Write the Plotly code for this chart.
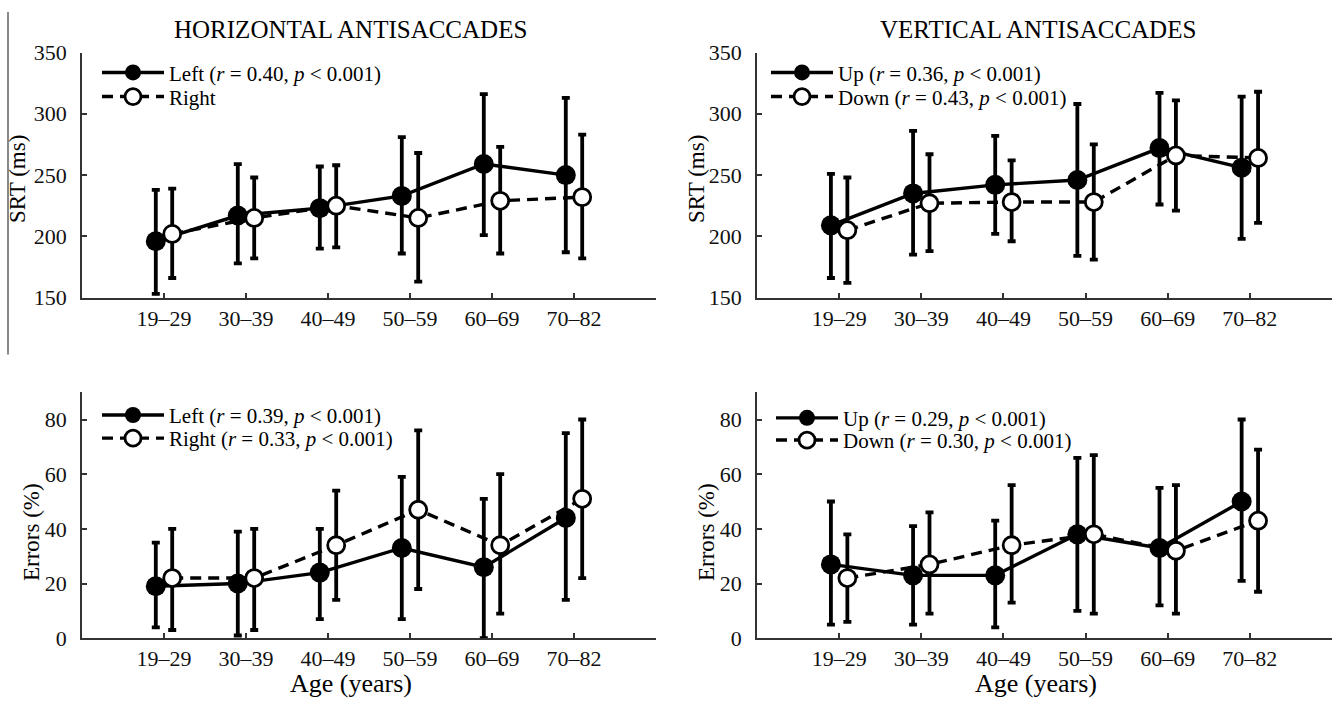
import numpy as np
import plotly.graph_objects as go

W, H = 1336, 712

age_groups = ["19–29", "30–39", "40–49", "50–59", "60–69", "70–82"]

# Horizontal antisaccades, SRT (ms)
h_srt_left = [196, 217, 223, 233, 259, 250]
h_srt_left_hi = [238, 259, 257, 281, 316, 313]
h_srt_left_lo = [153, 178, 190, 186, 201, 187]
h_srt_right = [202, 215, 225, 215, 229, 232]
h_srt_right_hi = [239, 248, 258, 268, 273, 283]
h_srt_right_lo = [166, 182, 191, 163, 186, 182]

# Vertical antisaccades, SRT (ms)
v_srt_up = [209, 235, 242, 246, 272, 256]
v_srt_up_hi = [251, 286, 282, 308, 317, 314]
v_srt_up_lo = [166, 185, 202, 184, 226, 198]
v_srt_down = [205, 227, 228, 228, 266, 264]
v_srt_down_hi = [248, 267, 262, 275, 311, 318]
v_srt_down_lo = [162, 188, 196, 181, 221, 211]

# Horizontal antisaccades, errors (%)
h_err_left = [19, 20, 24, 33, 26, 44]
h_err_left_hi = [35, 39, 40, 59, 51, 75]
h_err_left_lo = [4, 1, 7, 7, 0, 14]
h_err_right = [22, 22, 34, 47, 34, 51]
h_err_right_hi = [40, 40, 54, 76, 60, 80]
h_err_right_lo = [3, 3, 14, 18, 9, 22]

# Vertical antisaccades, errors (%)
v_err_up = [27, 23, 23, 38, 33, 50]
v_err_up_hi = [50, 41, 43, 66, 55, 80]
v_err_up_lo = [5, 5, 4, 10, 12, 21]
v_err_down = [22, 27, 34, 38, 32, 43]
v_err_down_hi = [38, 46, 56, 67, 56, 69]
v_err_down_lo = [6, 9, 13, 9, 9, 17]

legend_names = [
    ["Left (<i>r</i> = 0.40, <i>p</i> &lt; 0.001)", "Right"],
    ["Up (<i>r</i> = 0.36, <i>p</i> &lt; 0.001)", "Down (<i>r</i> = 0.43, <i>p</i> &lt; 0.001)"],
    ["Left (<i>r</i> = 0.39, <i>p</i> &lt; 0.001)", "Right (<i>r</i> = 0.33, <i>p</i> &lt; 0.001)"],
    ["Up (<i>r</i> = 0.29, <i>p</i> &lt; 0.001)", "Down (<i>r</i> = 0.30, <i>p</i> &lt; 0.001)"],
]

pos = np.arange(1, len(age_groups) + 1)
OFF = 0.1

fig = go.Figure()


def add_series(xa, ya, leg, name, mean, hi, lo, filled):
    mean = np.array(mean, float)
    hi = np.array(hi, float)
    lo = np.array(lo, float)
    x = pos - OFF if filled else pos + OFF
    fig.add_trace(go.Scatter(
        x=x, y=mean, xaxis=xa, yaxis=ya, legend=leg, name=name,
        mode="lines+markers",
        line=dict(color="black", width=3.4, dash="solid" if filled else "11px,7px"),
        marker=dict(
            symbol="circle",
            size=20 if filled else 17,
            color="black" if filled else "white",
            line=dict(color="black", width=0 if filled else 2.8),
        ),
        error_y=dict(type="data", symmetric=False, array=hi - mean,
                     arrayminus=mean - lo, color="black", thickness=3.8, width=4),
        hoverinfo="skip",
    ))


panels = [
    (h_srt_left, h_srt_left_hi, h_srt_left_lo, h_srt_right, h_srt_right_hi, h_srt_right_lo),
    (v_srt_up, v_srt_up_hi, v_srt_up_lo, v_srt_down, v_srt_down_hi, v_srt_down_lo),
    (h_err_left, h_err_left_hi, h_err_left_lo, h_err_right, h_err_right_hi, h_err_right_lo),
    (v_err_up, v_err_up_hi, v_err_up_lo, v_err_down, v_err_down_hi, v_err_down_lo),
]
for i, (m1, h1, l1, m2, h2, l2) in enumerate(panels):
    s = "" if i == 0 else str(i + 1)
    n1, n2 = legend_names[i]
    leg_a = "legend" if i == 0 else "legend" + str(2 * i + 1)
    leg_b = "legend" + str(2 * i + 2)
    add_series("x" + s, "y" + s, leg_a, n1, m1, h1, l1, True)
    add_series("x" + s, "y" + s, leg_b, n2, m2, h2, l2, False)


def px(v):
    return v / W


def py(v):
    return 1 - v / H


tick_font = dict(family="Liberation Serif", size=22, color="#111")
axis_common = dict(showline=True, linecolor="#333", linewidth=1.5, ticks="inside",
                   ticklen=5, tickwidth=1.5, tickcolor="#333", showgrid=False,
                   zeroline=False, tickfont=tick_font, fixedrange=True)

xtickvals = list(pos) + [len(age_groups) + 1]
xticktext = age_groups + [""]

left_dom = [px(82), px(656)]
right_dom = [px(757), px(1332)]
top_dom = [py(296), py(42)]
bot_dom = [py(649), py(394)]

layout = dict(
    width=W, height=H, margin=dict(l=0, r=0, t=0, b=0),
    paper_bgcolor="white", plot_bgcolor="white",
    showlegend=True,
)
for i, (xd, yd, yr, ytv) in enumerate([
    (left_dom, top_dom, [150, 350], [150, 200, 250, 300, 350]),
    (right_dom, top_dom, [150, 350], [150, 200, 250, 300, 350]),
    (left_dom, bot_dom, [0, 90], [0, 20, 40, 60, 80]),
    (right_dom, bot_dom, [0, 90], [0, 20, 40, 60, 80]),
]):
    s = "" if i == 0 else str(i + 1)
    layout["xaxis" + s] = dict(axis_common, domain=xd, range=[0, 7], anchor="y" + s,
                               tickvals=xtickvals, ticktext=xticktext)
    layout["yaxis" + s] = dict(axis_common, domain=yd, range=yr, anchor="x" + s,
                               tickvals=ytv, ticklabelstandoff=9)

legend_common = dict(font=dict(family="Liberation Serif", size=21, color="black"),
                     bgcolor="rgba(0,0,0,0)", borderwidth=0, itemwidth=62,
                     xanchor="left", yanchor="middle", tracegroupgap=0,
                     itemclick=False, itemdoubleclick=False)
# (left x of legend, row-centre y) for each legend row, in pixels
legend_rows = [(97, 63), (97, 88), (766, 63), (766, 88),
               (97, 418), (97, 442), (771, 421), (771, 444)]
for k, (lx, ly) in enumerate(legend_rows):
    key = "legend" if k == 0 else "legend" + str(k + 1)
    layout[key] = dict(legend_common, x=px(lx), y=py(ly))

text_font = dict(family="Liberation Serif", color="black")
annotations = [
    dict(text="HORIZONTAL ANTISACCADES", x=px(351), y=py(18), font=dict(text_font, size=25)),
    dict(text="VERTICAL ANTISACCADES", x=px(1038), y=py(18), font=dict(text_font, size=25)),
    dict(text="SRT (ms)", x=px(18), y=py(173), textangle=-90, font=dict(text_font, size=23)),
    dict(text="SRT (ms)", x=px(697), y=py(173), textangle=-90, font=dict(text_font, size=23)),
    dict(text="Errors (%)", x=px(31), y=py(539), textangle=-90, font=dict(text_font, size=23)),
    dict(text="Errors (%)", x=px(706), y=py(539), textangle=-90, font=dict(text_font, size=23)),
    dict(text="Age (years)", x=px(351), y=py(696), font=dict(text_font, size=26)),
    dict(text="Age (years)", x=px(1036), y=py(696), font=dict(text_font, size=26)),
]
for a in annotations:
    a.update(xref="paper", yref="paper", xanchor="center", yanchor="middle", showarrow=False)
layout["annotations"] = annotations

layout["shapes"] = [dict(type="line", xref="paper", yref="paper", x0=px(8), x1=px(8),
                         y0=py(0), y1=py(355), line=dict(color="#888", width=2))]

fig.update_layout(**layout)
fig.write_html("out.html", config={"displayModeBar": False},
               post_script="document.body.style.margin='0';document.body.style.overflow='hidden';")
